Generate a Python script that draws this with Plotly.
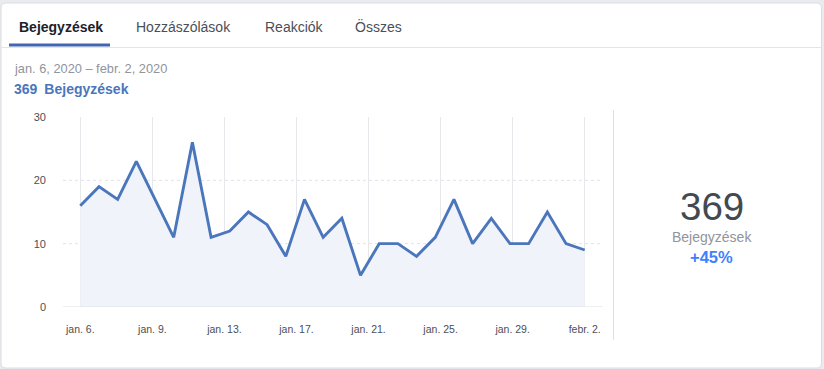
import pandas as pd
import plotly.graph_objects as go

# ---------------- data ----------------
dates = ["2020-01-06", "2020-01-07", "2020-01-08", "2020-01-09", "2020-01-10", "2020-01-11", "2020-01-12",
         "2020-01-13", "2020-01-14", "2020-01-15", "2020-01-16", "2020-01-17", "2020-01-18", "2020-01-19",
         "2020-01-20", "2020-01-21", "2020-01-22", "2020-01-23", "2020-01-24", "2020-01-25", "2020-01-26",
         "2020-01-27", "2020-01-28", "2020-01-29", "2020-01-30", "2020-01-31", "2020-02-01", "2020-02-02"]
posts = [16, 19, 17, 23, 17, 11, 26, 11, 12, 15, 13, 8, 17, 11,
         14, 5, 10, 10, 8, 11, 17, 10, 14, 10, 10, 15, 10, 9]
tick_labels = ["jan. 6.", "jan. 9.", "jan. 13.", "jan. 17.", "jan. 21.", "jan. 25.", "jan. 29.", "febr. 2."]
y_ticks = [0, 10, 20, 30]
tabs = ["Bejegyzések", "Hozzászólások", "Reakciók", "Összes"]
date_range_text = "jan. 6, 2020 – febr. 2, 2020"
total_text = "369"
metric_name = "Bejegyzések"
change_text = "+45%"

# ---------------- layout geometry ----------------
W, H = 824, 369
L, R, T, B = 63, 221, 117, 62
PW, PH = W - L - R, H - T - B
FONT = "Liberation Sans, Arial, Helvetica, sans-serif"


def px(x):
    return (x - L) / PW


def py(y):
    return (H - B - y) / PH


start = pd.Timestamp(dates[0])
end = pd.Timestamp(dates[-1])
span = end - start
tickvals = [start + span * k / (len(tick_labels) - 1) for k in range(len(tick_labels))]
day = pd.Timedelta(days=1)
x_range = [start - 0.926 * day, start + 27.979 * day]

fig = go.Figure()
fig.add_trace(go.Scatter(
    x=pd.to_datetime(dates), y=posts, mode="lines",
    line=dict(color="#4a76bb", width=2.9),
    fill="tozeroy", fillcolor="#f0f3f9",
    hoverinfo="skip",
))

shapes = []
# card with rounded corners
x0, x1, y0, y1, r = 1, 821.5, 3, 368, 5
rx, ry = r / PW, r / PH
X0, X1, Y0, Y1 = px(x0), px(x1), py(y1), py(y0)
path = (f"M {X0+rx},{Y1} L {X1-rx},{Y1} Q {X1},{Y1} {X1},{Y1-ry} "
        f"L {X1},{Y0+ry} Q {X1},{Y0} {X1-rx},{Y0} "
        f"L {X0+rx},{Y0} Q {X0},{Y0} {X0},{Y0+ry} "
        f"L {X0},{Y1-ry} Q {X0},{Y1} {X0+rx},{Y1} Z")
shapes.append(dict(type="path", path=path, xref="paper", yref="paper",
                   fillcolor="white", line=dict(color="#dadde1", width=1), layer="below"))
# tab separator
shapes.append(dict(type="line", xref="paper", yref="paper", x0=px(1.5), x1=px(821), y0=py(47.5), y1=py(47.5),
                   line=dict(color="#e3e5e8", width=1), layer="below"))
# active tab underline
shapes.append(dict(type="rect", xref="paper", yref="paper", x0=px(9), x1=px(110), y0=py(46.5), y1=py(43.5),
                   fillcolor="#4267b2", line=dict(width=0), layer="below"))
# right-panel divider
shapes.append(dict(type="line", xref="paper", yref="paper", x0=px(613.5), x1=px(613.5), y0=py(110), y1=py(340),
                   line=dict(color="#dddfe2", width=1), layer="below"))
# horizontal dotted gridlines
for v in y_ticks[1:-1]:
    shapes.append(dict(type="line", xref="paper", yref="y", x0=0, x1=1, y0=v, y1=v,
                       line=dict(color="#dfe3ea", width=1, dash="dot"), layer="below"))
# zero line
shapes.append(dict(type="line", xref="paper", yref="y", x0=0, x1=1, y0=0, y1=0,
                   line=dict(color="#dddfe2", width=1), layer="above"))

annotations = []
tab_x = [17, 134, 263, 353]
for i, (t, tx) in enumerate(zip(tabs, tab_x)):
    annotations.append(dict(
        text=f"<b>{t}</b>" if i == 0 else t, x=px(tx), y=py(26.5), xref="paper", yref="paper",
        xanchor="left", yanchor="middle", showarrow=False,
        font=dict(family=FONT, size=14, color="#1d2129" if i == 0 else "#4b4f56")))
annotations.append(dict(text=date_range_text, x=px(12), y=py(68), xref="paper", yref="paper",
                        xanchor="left", yanchor="middle", showarrow=False,
                        font=dict(family=FONT, size=12.8, color="#90949c")))
annotations.append(dict(text=f"<b>{total_text}\u2002{metric_name}</b>", x=px(12), y=py(89),
                        xref="paper", yref="paper", xanchor="left", yanchor="middle", showarrow=False,
                        font=dict(family=FONT, size=14, color="#4a76bb")))
annotations.append(dict(text=total_text, x=px(711.5), y=py(206), xref="paper", yref="paper",
                        xanchor="center", yanchor="middle", showarrow=False,
                        font=dict(family=FONT, size=38.5, color="#444950")))
annotations.append(dict(text=metric_name, x=px(711.5), y=py(237), xref="paper", yref="paper",
                        xanchor="center", yanchor="middle", showarrow=False,
                        font=dict(family=FONT, size=14, color="#90949c")))
annotations.append(dict(text=f"<b>{change_text}</b>", x=px(711.5), y=py(256.5), xref="paper", yref="paper",
                        xanchor="center", yanchor="middle", showarrow=False,
                        font=dict(family=FONT, size=16.5, color="#4080ff")))

fig.update_layout(
    width=W, height=H,
    margin=dict(l=L, r=R, t=T, b=B, pad=0),
    paper_bgcolor="#e9ebee", plot_bgcolor="rgba(0,0,0,0)",
    showlegend=False,
    shapes=shapes, annotations=annotations,
    font=dict(family=FONT),
    xaxis=dict(type="date", range=x_range, tickvals=tickvals, ticktext=tick_labels,
               showgrid=True, gridcolor="#e6e7ea", gridwidth=1, zeroline=False, showline=False,
               ticks="", ticklabelstandoff=14,
               tickfont=dict(family=FONT, size=10.5, color="#4b4f56"), fixedrange=True),
    yaxis=dict(range=[0, 30], tickvals=y_ticks, showgrid=False, zeroline=False, showline=False,
               ticks="", ticklabelstandoff=16,
               tickfont=dict(family=FONT, size=11, color="#4b4f56"), fixedrange=True),
)

fig.write_html("out.html", config={"displayModeBar": False},
               post_script="document.body.style.margin='0';document.body.style.padding='0';"
                           "document.body.style.overflow='hidden';")
